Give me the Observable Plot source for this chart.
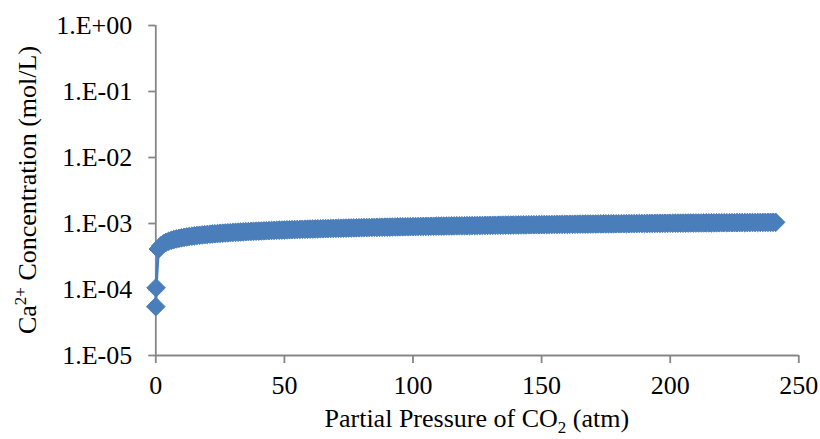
<!DOCTYPE html>
<html>
<head>
<meta charset="utf-8">
<script src="https://cdn.jsdelivr.net/npm/d3@7"></script>
<script src="https://cdn.jsdelivr.net/npm/@observablehq/plot@0.6"></script>
<style>
  html, body { margin: 0; padding: 0; background: #fff; }
  #chart svg { display: block; }
</style>
</head>
<body>
<div id="chart"></div>
<script>
// Partial pressure of CO2 (atm)
const pressure = [0, 0.1,
  1, 2, 3, 4, 5, 6, 7, 8, 9, 10, 11, 12, 13, 14, 15, 16, 17, 18, 19, 20,
  21, 22, 23, 24, 25, 26, 27, 28, 29, 30, 31, 32, 33, 34, 35, 36, 37, 38, 39, 40,
  41, 42, 43, 44, 45, 46, 47, 48, 49, 50, 51, 52, 53, 54, 55, 56, 57, 58, 59, 60,
  61, 62, 63, 64, 65, 66, 67, 68, 69, 70, 71, 72, 73, 74, 75, 76, 77, 78, 79, 80,
  81, 82, 83, 84, 85, 86, 87, 88, 89, 90, 91, 92, 93, 94, 95, 96, 97, 98, 99, 100,
  101, 102, 103, 104, 105, 106, 107, 108, 109, 110, 111, 112, 113, 114, 115, 116, 117, 118, 119, 120,
  121, 122, 123, 124, 125, 126, 127, 128, 129, 130, 131, 132, 133, 134, 135, 136, 137, 138, 139, 140,
  141, 142, 143, 144, 145, 146, 147, 148, 149, 150, 151, 152, 153, 154, 155, 156, 157, 158, 159, 160,
  161, 162, 163, 164, 165, 166, 167, 168, 169, 170, 171, 172, 173, 174, 175, 176, 177, 178, 179, 180,
  181, 182, 183, 184, 185, 186, 187, 188, 189, 190, 191, 192, 193, 194, 195, 196, 197, 198, 199, 200,
  201, 202, 203, 204, 205, 206, 207, 208, 209, 210, 211, 212, 213, 214, 215, 216, 217, 218, 219, 220,
  221, 222, 223, 224, 225, 226, 227, 228, 229, 230, 231, 232, 233, 234, 235, 236, 237, 238, 239, 240,
  241];
// Ca2+ concentration, in units of 1e-4 mol/L
const concentrationE4 = [0.55, 1.06,
  4.10, 4.61, 4.94, 5.19, 5.39, 5.56, 5.71, 5.84, 5.96, 6.06, 6.16, 6.26, 6.34, 6.42, 6.50, 6.57, 6.64, 6.70, 6.76, 6.82,
  6.88, 6.93, 6.99, 7.04, 7.09, 7.13, 7.18, 7.22, 7.27, 7.31, 7.35, 7.39, 7.43, 7.47, 7.51, 7.54, 7.58, 7.61, 7.65, 7.68,
  7.71, 7.74, 7.77, 7.80, 7.83, 7.86, 7.89, 7.92, 7.95, 7.97, 8.00, 8.03, 8.06, 8.08, 8.11, 8.13, 8.16, 8.18, 8.20, 8.22,
  8.25, 8.27, 8.29, 8.31, 8.34, 8.36, 8.38, 8.40, 8.42, 8.44, 8.46, 8.48, 8.50, 8.52, 8.54, 8.56, 8.58, 8.60, 8.62, 8.64,
  8.66, 8.67, 8.69, 8.71, 8.73, 8.74, 8.76, 8.78, 8.80, 8.81, 8.83, 8.84, 8.86, 8.88, 8.90, 8.91, 8.93, 8.94, 8.96, 8.97,
  8.99, 9.00, 9.02, 9.03, 9.05, 9.06, 9.08, 9.09, 9.11, 9.12, 9.13, 9.14, 9.16, 9.17, 9.19, 9.20, 9.22, 9.23, 9.24, 9.25,
  9.27, 9.28, 9.29, 9.30, 9.32, 9.33, 9.34, 9.35, 9.37, 9.38, 9.39, 9.40, 9.42, 9.43, 9.44, 9.45, 9.46, 9.47, 9.49, 9.50,
  9.51, 9.52, 9.53, 9.54, 9.56, 9.57, 9.58, 9.59, 9.60, 9.61, 9.62, 9.63, 9.64, 9.65, 9.66, 9.67, 9.68, 9.69, 9.71, 9.72,
  9.73, 9.74, 9.75, 9.76, 9.77, 9.78, 9.79, 9.80, 9.81, 9.82, 9.83, 9.84, 9.85, 9.86, 9.87, 9.88, 9.88, 9.89, 9.90, 9.91,
  9.92, 9.93, 9.94, 9.95, 9.96, 9.97, 9.98, 9.99, 9.995, 10.00, 10.01, 10.02, 10.03, 10.04, 10.05, 10.06, 10.06, 10.07, 10.08, 10.09,
  10.10, 10.11, 10.12, 10.13, 10.13, 10.14, 10.15, 10.16, 10.17, 10.18, 10.18, 10.19, 10.20, 10.21, 10.21, 10.22, 10.23, 10.24, 10.25, 10.26,
  10.26, 10.27, 10.28, 10.29, 10.29, 10.30, 10.31, 10.32, 10.32, 10.33, 10.34, 10.35, 10.35, 10.36, 10.37, 10.38, 10.38, 10.39, 10.40, 10.41,
  10.42];

const xTicks = [0, 50, 100, 150, 200, 250];
const yTicks = [1e-5, 1e-4, 1e-3, 1e-2, 1e-1, 1];
const yTickLabels = ["1.E-05", "1.E-04", "1.E-03", "1.E-02", "1.E-01", "1.E+00"];

const data = pressure.map((p, i) => ({p, c: concentrationE4[i] * 1e-4}));

const W = 820, H = 439;
const mL = 155.3, mR = 21.7, mT = 25, mB = 84;
const axisGray = "#878787";
const blue = "#4a7ebb";
const font = '"Liberation Serif", "Times New Roman", serif';

const chart = Plot.plot({
  width: W,
  height: H,
  marginLeft: mL,
  marginRight: mR,
  marginTop: mT,
  marginBottom: mB,
  style: {fontFamily: font, fontSize: "26px", color: "#000", background: "#fff"},
  x: {domain: [0, 250]},
  y: {type: "log", domain: [1e-5, 1]},
  marks: [
    Plot.ruleX([0], {stroke: axisGray, strokeWidth: 1.8}),
    Plot.ruleY([1e-5], {stroke: axisGray, strokeWidth: 1.8}),
    Plot.axisX({ticks: xTicks, tickSize: 8, tickPadding: 12, fontSize: 26, stroke: axisGray, strokeWidth: 1.8, label: null, tickFormat: d => String(d)}),
    Plot.axisY({ticks: yTicks, tickSize: 7, tickPadding: 16.6, fontSize: 26, stroke: axisGray, strokeWidth: 1.8, label: null,
      tickFormat: d => yTickLabels[yTicks.findIndex(t => Math.abs(Math.log10(t) - Math.log10(d)) < 1e-6)]}),
    Plot.line(data, {x: "p", y: "c", stroke: blue, strokeWidth: 3}),
    Plot.dot(data, {x: "p", y: "c", symbol: "diamond2", r: 8.4, fill: blue, stroke: blue, strokeWidth: 1})
  ]
});

document.getElementById("chart").appendChild(chart);

// Axis titles with sub/superscripts
const svg = d3.select(chart);
const yt = svg.append("text")
  .attr("transform", `translate(36,${(mT + H - mB) / 2}) rotate(-90)`)
  .attr("text-anchor", "middle")
  .style("font-family", font)
  .attr("font-size", 26)
  .attr("fill", "#000");
yt.append("tspan").text("Ca");
yt.append("tspan").attr("dy", -10).attr("font-size", 17).text("2+");
yt.append("tspan").attr("dy", 10).text(" Concentration (mol/L)");

const xt = svg.append("text")
  .attr("x", (mL + W - mR) / 2)
  .attr("y", 427)
  .attr("text-anchor", "middle")
  .style("font-family", font)
  .attr("font-size", 26)
  .attr("fill", "#000");
xt.append("tspan").text("Partial Pressure of CO");
xt.append("tspan").attr("dy", 6).attr("font-size", 17).text("2");
xt.append("tspan").attr("dy", -6).text(" (atm)");
</script>
</body>
</html>
